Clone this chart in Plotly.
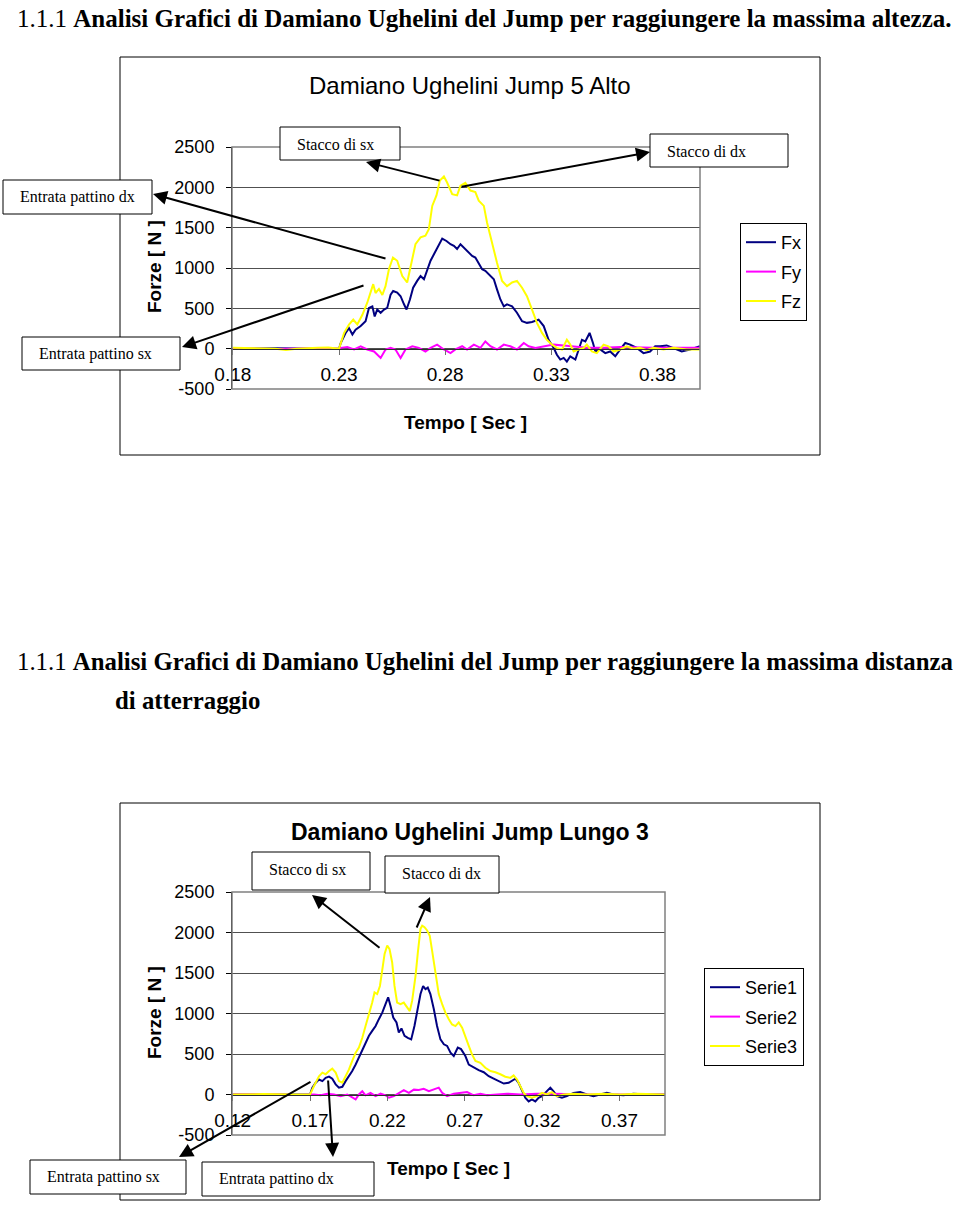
import plotly.graph_objects as go

# ---- Chart 1: Damiano Ughelini Jump 5 Alto ----
alto_t_fx = [0.18, 0.20, 0.22, 0.2300,
             0.2308, 0.2331, 0.2347, 0.2363, 0.2378, 0.2402, 0.2425, 0.2441, 0.2457, 0.2468,
             0.2480, 0.2496, 0.2512, 0.2527, 0.2543, 0.2555, 0.2574, 0.2590, 0.2606, 0.2618,
             0.2634, 0.2649, 0.2668, 0.2684, 0.2700, 0.2715, 0.2731, 0.2747, 0.2765, 0.2786,
             0.2806, 0.2825, 0.2841, 0.2856, 0.2872, 0.2888, 0.2911, 0.2927, 0.2942, 0.2958,
             0.2974, 0.2989, 0.3013, 0.3029, 0.3044, 0.3060, 0.3076, 0.3091, 0.3115, 0.3138,
             0.3162, 0.3185, 0.3209, 0.3240, 0.3264, 0.3287, 0.3311, 0.3326, 0.3342, 0.3358,
             0.3373, 0.3389, 0.3413, 0.3428, 0.3444, 0.3460, 0.3480, 0.3496, 0.3507, 0.3530,
             0.3554, 0.3577, 0.3601, 0.3624, 0.3648, 0.3671, 0.3702, 0.3734, 0.3765, 0.3789,
             0.3812, 0.3843, 0.3875, 0.3914, 0.3953, 0.4000]
alto_fx = [0, 5, 0, 0,
           70, 195, 255, 175, 235, 280, 340, 505, 525, 400,
           485, 445, 485, 505, 670, 715, 695, 650, 550, 485,
           610, 755, 840, 900, 860, 985, 1090, 1170, 1255, 1365,
           1335, 1295, 1275, 1235, 1295, 1255, 1190, 1150, 1130, 1065,
           985, 965, 900, 860, 735, 610, 525, 550, 525, 445,
           340, 320, 330, 360, 280, 110, 10, -75, -135, -115,
           -160, -95, -135, -10, 110, 90, 195, 70, -35, -10,
           -55, -35, -95, -10, 70, 50, 10, -55, -35, 30,
           30, 40, 10, -35, -10, 30]

alto_t_fy = [0.18, 0.20, 0.22, 0.2300,
             0.2308, 0.2339, 0.2371, 0.2402, 0.2433, 0.2465, 0.2496, 0.2519, 0.2543, 0.2566,
             0.2590, 0.2613, 0.2645, 0.2676, 0.2707, 0.2731, 0.2762, 0.2794, 0.2825, 0.2848,
             0.2880, 0.2903, 0.2935, 0.2966, 0.2989, 0.3013, 0.3044, 0.3076, 0.3107, 0.3138,
             0.3170, 0.3193, 0.3225, 0.3264, 0.3311, 0.3358, 0.3405, 0.3467, 0.3546, 0.3624,
             0.3781, 0.4000]
alto_fy = [5, -5, 5, 0,
           10, 20, -10, 30, -10, -35, -115, -10, 10, -10,
           -115, -10, 30, 10, -35, 10, 50, -10, -55, -10,
           30, -10, 50, 10, 90, 30, -10, 50, 30, -10,
           70, 30, 10, 30, 50, 40, 30, 10, 10, 20,
           10, 10]

alto_t_fz = [0.18, 0.19, 0.20, 0.205, 0.21, 0.22, 0.225,
             0.2300, 0.2324, 0.2347, 0.2367, 0.2386, 0.2410, 0.2433, 0.2449, 0.2461, 0.2472,
             0.2488, 0.2504, 0.2519, 0.2535, 0.2554, 0.2574, 0.2598, 0.2621, 0.2637, 0.2660,
             0.2684, 0.2707, 0.2723, 0.2739, 0.2759, 0.2775, 0.2794, 0.2809, 0.2833, 0.2856,
             0.2872, 0.2895, 0.2919, 0.2942, 0.2958, 0.2982, 0.2997, 0.3021, 0.3044, 0.3068,
             0.3091, 0.3115, 0.3138, 0.3162, 0.3185, 0.3209, 0.3232, 0.3256, 0.3279, 0.3303,
             0.3326, 0.3350, 0.3373, 0.3389, 0.3405, 0.3428, 0.3452, 0.3467, 0.3491, 0.3514,
             0.3546, 0.3569, 0.3593, 0.3624, 0.3655, 0.3687, 0.3718, 0.3749, 0.3781, 0.3828,
             0.3875, 0.3937, 0.4000]
alto_fz = [10, 5, 0, -15, 0, 10, 15,
           0, 195, 300, 360, 300, 420, 570, 690, 800, 690,
           740, 665, 775, 985, 1130, 1090, 900, 820, 1025, 1295,
           1380, 1400, 1480, 1770, 1900, 2085, 2135, 2060, 1915, 1900,
           2020, 2055, 1960, 1940, 1835, 1770, 1565, 1295, 1065, 840,
           775, 820, 840, 755, 650, 485, 320, 195, 110, 50,
           10, -10, 110, 50, -35, -10, 10, 50, -35, -55,
           50, 30, -35, -10, 30, 0, 10, -20, 10, -10,
           10, -10, -10]

alto_ticks = [0.18, 0.23, 0.28, 0.33, 0.38]

# ---- Chart 2: Damiano Ughelini Jump Lungo 3 ----
lungo_t_s1 = [0.12, 0.14, 0.16, 0.17,
              0.1715, 0.1737, 0.1758, 0.1780, 0.1801, 0.1823, 0.1844, 0.1866, 0.1887, 0.1909,
              0.1930, 0.1952, 0.1973, 0.1995, 0.2016, 0.2038, 0.2059, 0.2081, 0.2102, 0.2124,
              0.2145, 0.2167, 0.2188, 0.2205, 0.2220, 0.2238, 0.2259, 0.2274, 0.2291, 0.2311,
              0.2332, 0.2354, 0.2375, 0.2397, 0.2414, 0.2431, 0.2446, 0.2461, 0.2478, 0.2500,
              0.2521, 0.2543, 0.2565, 0.2586, 0.2608, 0.2629, 0.2655, 0.2676, 0.2704, 0.2726,
              0.2758, 0.2790, 0.2823, 0.2855, 0.2887, 0.2919, 0.2952, 0.2984, 0.3005, 0.3027,
              0.3048, 0.3070, 0.3091, 0.3113, 0.3134, 0.3156, 0.3177, 0.3199, 0.3231, 0.3253,
              0.3274, 0.3296, 0.3328, 0.3360, 0.3403, 0.3446, 0.3489, 0.3532, 0.3575, 0.3618,
              0.3661, 0.3726, 0.3790, 0.3876, 0.3995]
lungo_s1 = [0, 0, 5, 0,
            85, 145, 185, 165, 205, 220, 195, 125, 85, 95,
            165, 225, 290, 370, 455, 560, 640, 725, 785, 845,
            930, 1010, 1115, 1200, 1095, 950, 890, 765, 815, 725,
            700, 680, 845, 1095, 1240, 1340, 1300, 1320, 1240, 1055,
            845, 680, 620, 600, 515, 475, 580, 560, 475, 370,
            330, 300, 275, 225, 195, 165, 135, 145, 165, 195,
            145, 40, -40, -85, -60, -85, -40, -20, 40, 85,
            40, -20, -40, -20, 20, 30, 0, -20, 0, 20,
            0, -10, 10, 0, 0]

lungo_t_s2 = [0.12, 0.14, 0.16, 0.17,
              0.1726, 0.1769, 0.1812, 0.1855, 0.1898, 0.1941, 0.1973, 0.1995, 0.2016, 0.2038,
              0.2059, 0.2091, 0.2124, 0.2156, 0.2188, 0.2210, 0.2242, 0.2274, 0.2306, 0.2339,
              0.2371, 0.2403, 0.2435, 0.2468, 0.2500, 0.2532, 0.2554, 0.2586, 0.2629, 0.2672,
              0.2715, 0.2758, 0.2801, 0.2844, 0.2909, 0.2973, 0.3059, 0.3167, 0.3274, 0.3489,
              0.3995]
lungo_s2 = [0, 5, -5, 0,
            0, -10, 10, 0, -20, 0, -40, -60, 0, 40,
            -10, 20, -20, 10, -10, -40, -20, 20, 55, 20,
            60, 55, 70, 40, 60, 85, 20, -20, 10, 20,
            30, -10, 10, -10, 0, 10, 0, 10, 10, 0,
            0]

lungo_t_s3 = [0.12, 0.14, 0.16,
              0.1700, 0.1726, 0.1758, 0.1780, 0.1801, 0.1823, 0.1844, 0.1866, 0.1887, 0.1909,
              0.1930, 0.1952, 0.1973, 0.1995, 0.2016, 0.2038, 0.2059, 0.2081, 0.2102, 0.2117,
              0.2134, 0.2152, 0.2167, 0.2182, 0.2199, 0.2214, 0.2231, 0.2246, 0.2263, 0.2285,
              0.2306, 0.2328, 0.2345, 0.2360, 0.2382, 0.2397, 0.2414, 0.2425, 0.2440, 0.2457,
              0.2474, 0.2489, 0.2511, 0.2532, 0.2554, 0.2575, 0.2597, 0.2618, 0.2640, 0.2661,
              0.2683, 0.2704, 0.2726, 0.2747, 0.2769, 0.2801, 0.2833, 0.2866, 0.2898, 0.2930,
              0.2962, 0.2995, 0.3016, 0.3038, 0.3059, 0.3081, 0.3102, 0.3134, 0.3167, 0.3199,
              0.3231, 0.3263, 0.3296, 0.3339, 0.3403, 0.3489, 0.3597, 0.3704, 0.3812, 0.3995]
lungo_s3 = [0, 5, 0,
            0, 105, 225, 270, 250, 290, 320, 270, 165, 145,
            225, 310, 415, 515, 580, 700, 845, 990, 1135, 1260,
            1240, 1340, 1550, 1735, 1840, 1795, 1630, 1340, 1135, 1115,
            1135, 1075, 1030, 1155, 1465, 1755, 2045, 2085, 2065, 2025,
            1960, 1775, 1505, 1240, 1115, 1010, 930, 865, 845, 890,
            825, 725, 600, 495, 415, 390, 330, 290, 275, 250,
            220, 205, 235, 185, 105, 20, -20, -40, -20, 20,
            0, 30, -20, 0, 10, 0, 10, 0, 10, 0]

lungo_ticks = [0.12, 0.17, 0.22, 0.27, 0.32, 0.37]

force_ticks = [-500, 0, 500, 1000, 1500, 2000, 2500]

NAVY = '#000080'
MAGENTA = '#FF00FF'
YELLOW = '#FFFF00'

# the figure fills the whole 960x1205 window (body margin is cleared below)
W, H = 960, 1205


def px(x):
    return x / W


def py(y):
    return 1 - y / H


fig = go.Figure()

# chart 1 series
for name, t, v, col in [('Fx', alto_t_fx, alto_fx, NAVY),
                        ('Fy', alto_t_fy, alto_fy, MAGENTA),
                        ('Fz', alto_t_fz, alto_fz, YELLOW)]:
    fig.add_trace(go.Scatter(x=t, y=v, mode='lines', name=name,
                             line=dict(color=col, width=2),
                             xaxis='x', yaxis='y', legend='legend', legendgroup=name))

# chart 2 series
for name, t, v, col in [('Serie1', lungo_t_s1, lungo_s1, NAVY),
                        ('Serie2', lungo_t_s2, lungo_s2, MAGENTA),
                        ('Serie3', lungo_t_s3, lungo_s3, YELLOW)]:
    fig.add_trace(go.Scatter(x=t, y=v, mode='lines', name=name,
                             line=dict(color=col, width=2),
                             xaxis='x2', yaxis='y2', legend='legend2', legendgroup=name))

sans = 'Arial, Liberation Sans'
serif = 'Liberation Serif, Times New Roman'


def x_axis(domain, rng, ticks, pos):
    return dict(domain=domain, range=rng, anchor='free', position=pos,
                tickvals=ticks, ticktext=['%.2f' % v for v in ticks],
                ticks='outside', ticklen=5, tickcolor='#707070',
                showline=True, linecolor='#303030', linewidth=1,
                showgrid=False, zeroline=False, automargin=False,
                tickfont=dict(family=sans, size=19, color='black'),
                ticklabelstandoff=4)


def y_axis(domain, anchor):
    return dict(domain=domain, range=[-500, 2500],
                tickvals=force_ticks, ticktext=[str(v) for v in force_ticks],
                ticks='outside', ticklen=5, tickcolor='black',
                showline=True, linecolor='black', linewidth=1,
                showgrid=True, gridcolor='#505050', gridwidth=1,
                zeroline=False, anchor=anchor, automargin=False,
                tickfont=dict(family=sans, size=18, color='black'),
                ticklabelstandoff=8)


y1_dom = [py(389), py(147)]
y2_dom = [py(1135), py(892)]

legend_style = dict(xanchor='left', yanchor='top',
                    bgcolor='white', bordercolor='black', borderwidth=1,
                    font=dict(family=sans, size=18, color='black'),
                    traceorder='grouped', tracegroupgap=3, itemwidth=30)

fig.update_layout(
    width=W, height=H,
    margin=dict(l=0, r=0, t=0, b=0, pad=0, autoexpand=False),
    paper_bgcolor='white', plot_bgcolor='#C0C0C0',
    xaxis=x_axis([px(232), px(700)], [0.1796, 0.4], alto_ticks,
                 y1_dom[0] + (y1_dom[1] - y1_dom[0]) / 6),
    yaxis=y_axis(y1_dom, 'x'),
    xaxis2=x_axis([px(232), px(665)], [0.1196, 0.3994], lungo_ticks,
                  y2_dom[0] + (y2_dom[1] - y2_dom[0]) / 6),
    yaxis2=y_axis(y2_dom, 'x2'),
    legend=dict(x=px(740), y=py(223), **legend_style),
    legend2=dict(x=px(704), y=py(968), **legend_style),
    showlegend=True,
)

shapes = []
# outer chart frames
for x0, y0, x1, y1 in [(120, 57, 820, 455), (120, 803, 820, 1200)]:
    shapes.append(dict(type='rect', xref='paper', yref='paper', layer='below',
                       x0=px(x0), y0=py(y1), x1=px(x1), y1=py(y0),
                       line=dict(color='black', width=1), fillcolor='white'))
# plot area borders
for xr, yr in [('x domain', 'y domain'), ('x2 domain', 'y2 domain')]:
    shapes.append(dict(type='rect', xref=xr, yref=yr, x0=0, y0=0, x1=1, y1=1,
                       line=dict(color='#808080', width=1.5)))
# callout boxes
boxes = [
    ('Stacco di sx', 280, 127, 400, 160),
    ('Stacco di dx', 650, 134, 788, 167),
    ('Entrata pattino dx', 3, 180, 152, 214),
    ('Entrata pattino sx', 22, 337, 180, 370),
    ('Stacco di sx', 252, 852, 370, 890),
    ('Stacco di dx', 385, 856, 499, 893),
    ('Entrata pattino sx', 30, 1160, 186, 1194),
    ('Entrata pattino dx', 202, 1162, 374, 1196),
]
annotations = []
for text, x0, y0, x1, y1 in boxes:
    shapes.append(dict(type='rect', xref='paper', yref='paper',
                       x0=px(x0), y0=py(y1), x1=px(x1), y1=py(y0),
                       line=dict(color='black', width=1), fillcolor='white'))
    annotations.append(dict(text=text, xref='paper', yref='paper',
                            x=px(x0 + 15), y=py(y0 + 17), xanchor='left', yanchor='middle',
                            showarrow=False,
                            font=dict(family=serif, size=16, color='black')))

# arrows (head, tail) in page pixels
arrows = [
    ((366, 162), (441, 181)),
    ((650, 152), (460, 187)),
    ((153, 194), (387, 259)),
    ((182, 347), (365, 285)),
    ((312, 895), (381, 949)),
    ((430, 897), (416, 929)),
    ((179, 1157), (312, 1081)),
    ((333, 1157), (328, 1079)),
]
for (hx, hy), (tx, ty) in arrows:
    annotations.append(dict(text='', xref='paper', yref='paper', x=px(hx), y=py(hy),
                            axref='pixel', ayref='pixel', ax=tx - hx, ay=ty - hy,
                            showarrow=True, arrowhead=2, arrowsize=1.4, arrowwidth=2,
                            arrowcolor='black', standoff=0, startstandoff=0))

texts = [
    ('1.1.1 <b>Analisi Grafici di Damiano Ughelini del Jump per raggiungere la massima altezza.</b>',
     15, 19, 'left', 0, serif, 25),
    ('1.1.1 <b>Analisi Grafici di Damiano Ughelini del Jump per raggiungere la massima distanza</b>',
     15, 661, 'left', 0, serif, 24.8),
    ('<b>di atterraggio</b>', 113, 700, 'left', 0, serif, 24.8),
    ('Damiano Ughelini Jump 5 Alto', 470, 86, 'center', 0, sans, 24),
    ('<b>Damiano Ughelini Jump Lungo 3</b>', 470, 832, 'center', 0, sans, 23),
    ('<b>Forze [ N ]</b>', 154, 267, 'center', -90, sans, 19),
    ('<b>Forze [ N ]</b>', 154, 1013, 'center', -90, sans, 19),
    ('<b>Tempo [ Sec ]</b>', 465, 422, 'center', 0, sans, 19),
    ('<b>Tempo [ Sec ]</b>', 448, 1168, 'center', 0, sans, 19),
]
for text, x, y, anchor, angle, fam, size in texts:
    annotations.append(dict(text=text, xref='paper', yref='paper', x=px(x), y=py(y),
                            xanchor=anchor, yanchor='middle', textangle=angle,
                            showarrow=False, font=dict(family=fam, size=size, color='black')))

fig.update_layout(shapes=shapes, annotations=annotations)

# clear the page's default body margin so the figure sits at the window's corner;
# no modebar, it would cover the first heading
fig.write_html("out.html", config={'displayModeBar': False},
               post_script="document.body.style.margin='0px';")
